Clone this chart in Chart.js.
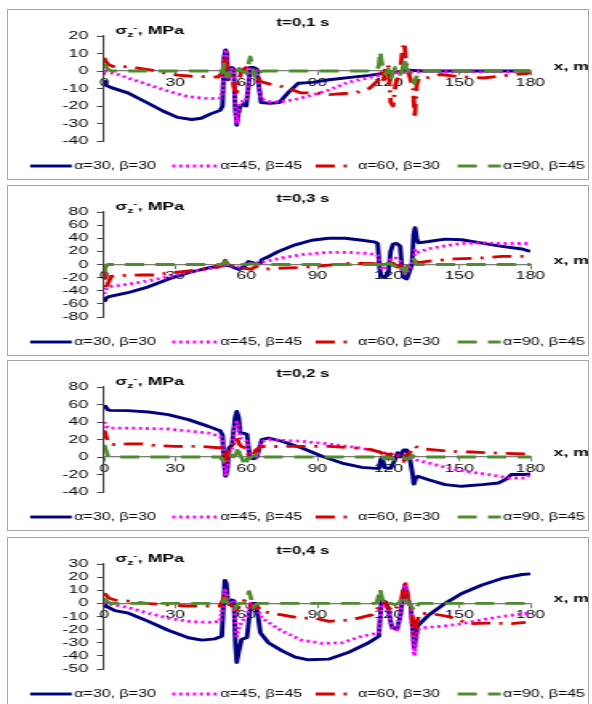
<!DOCTYPE html>
<html>
<head>
<meta charset="utf-8">
<script src="https://cdn.jsdelivr.net/npm/chart.js@4.4.1/dist/chart.umd.min.js"></script>
<style>
  html, body { margin: 0; padding: 0; background: #fff; width: 592px; height: 704px; overflow: hidden; }
  .panel { position: absolute; left: 7px; width: 580px; height: 169px; border: 1px solid #a8a8a8; background: #fff; overflow: hidden; }
  .panel canvas { transform: scaleX(1.60221); transform-origin: 0 0; }
</style>
</head>
<body>
<div class="panel" style="top:9px"><canvas id="c1" width="362" height="168"></canvas></div>
<div class="panel" style="top:185px"><canvas id="c2" width="362" height="168"></canvas></div>
<div class="panel" style="top:360px"><canvas id="c3" width="362" height="168"></canvas></div>
<div class="panel" style="top:537px"><canvas id="c4" width="362" height="168"></canvas></div>
<script>
// ---- data: stress sigma_z- (MPa) along x (m) for four moments of time ----
const xTicks = [0, 30, 60, 90, 120, 150, 180];
const seriesLabels = ['α=30, β=30', 'α=45, β=45', 'α=60, β=30', 'α=90, β=45'];
const panelTimes = ['t=0,1 s', 't=0,3 s', 't=0,2 s', 't=0,4 s'];

const yTicks01 = [-40, -30, -20, -10, 0, 10, 20];
const yTicks03 = [-80, -60, -40, -20, 0, 20, 40, 60, 80];
const yTicks02 = [-40, -20, 0, 20, 40, 60, 80];
const yTicks04 = [-50, -40, -30, -20, -10, 0, 10, 20, 30];

// t = 0,1 s
const s01_a30 = [[0,-6],[0.5,-8],[3,-9.5],[10,-12.5],[18,-18],[25,-23],[31,-26.5],[37,-27.7],[41,-27],[45,-24.5],[49,-22.5],[50,-20],[50.7,8],[51.3,12],[51.8,10],[52.3,-5],[53,0],[54,2],[54.7,1],[55.3,-20],[56,-31],[56.6,-25],[57.5,-20],[59,-19],[60,-20],[61,-8],[61.7,2],[63,2],[64.5,1],[65.3,-8],[66.3,-18],[70,-18.5],[74,-18],[78,-12],[82,-7],[88,-6.5],[95,-5],[105,-3.5],[112,-2.5],[120,-1],[125,-0.5],[128,0.5],[135,0],[150,0],[165,0],[180,0]];
const s01_a45 = [[0,0],[2,-1],[5,-1.5],[10,-4],[18,-7.5],[27,-11.5],[35,-14.5],[44,-15.8],[49,-15.5],[50,-12],[50.7,8],[51.3,11],[51.8,8],[52.3,-5],[53,0],[54,1],[54.7,0],[55.3,-18],[56,-30],[56.6,-24],[57.5,-18],[59,-17],[60,-17],[61,-6],[61.7,1],[63,1],[64.5,0],[65.3,-8],[66.3,-16],[70,-17.5],[75,-17.5],[80,-16.5],[86,-14.5],[95,-10.8],[103,-6.5],[111,-4],[117,-2.3],[125,-1],[135,-0.3],[150,-0.5],[165,-0.5],[180,-0.5]];
const s01_a60 = [[0,7.5],[0.5,6],[1.5,4],[3,3],[5,2],[10,2.5],[15,1.5],[20,0.5],[25,-1],[31,-2.3],[37,-3],[42,-3.2],[48,-3.5],[50,-1],[50.8,8],[51.5,5],[52.5,-2],[54,-3],[55,-10],[56,-12],[57,-5],[58,0],[60,2],[61,0],[62,-1],[64,-1],[66,-6],[70,-7.5],[74,-8.5],[78,-10],[83,-12.5],[89,-12.5],[95,-13.5],[100,-13],[106,-12.5],[112,-10],[116,-5],[117,-1],[118,-5],[119,3],[120,3.5],[121,-18],[122,-20],[123,-8],[124,-4],[125,0],[126,12],[126.8,16],[127.5,5],[129,-3],[130.5,-10],[131.2,-27],[132,-8],[133,-4],[136,-4],[142,-2],[150,-3.2],[160,-4],[170,-2.5],[178,-1.5],[180,-1]];
const s01_a90 = [[0,4],[0.5,3],[1.5,1],[3,0],[10,0],[20,0],[30,0],[40,0],[49,0],[50,-1],[50.8,4],[51.5,-3],[52.5,-3],[53.5,1],[55,-1],[56,0],[57,1.5],[58,0],[60,-1],[61,4],[61.7,8],[62.5,3],[63.5,-3],[64.5,1],[65.5,-1],[67,0],[80,0],[100,0],[115,0],[116,3],[116.6,11],[117.2,5],[118,0],[119,-2],[120,1],[121,-5],[122,-1],[123,2],[124,-1],[125,-2],[126,1],[126.8,7],[127.5,2],[129,-1],[130,-2],[131,-7],[132,-3],[133,0],[150,0],[165,0],[180,0]];

// t = 0,3 s
const s03_a30 = [[0,-55],[0.5,-52],[2,-49],[10,-43],[18.7,-34],[27,-22.6],[35.6,-12.6],[44,-5],[51,-1],[53,-2],[55,-5],[57,-7.5],[59,-3],[61,4.5],[62.5,3],[64,1.5],[66,2.5],[66.6,7.5],[70,13],[73.7,20],[80.7,30],[87.7,37],[94.8,40],[101.8,40],[109,37],[114.5,34],[115.5,32],[116.3,-5],[117,-18],[118.5,-20],[120,-12],[121,20],[122,31],[123.5,32],[125,28],[125.8,-5],[126.5,-20],[127.8,-22],[129,-10],[130,0],[130.7,45],[131.3,56],[132,40],[132.8,33],[137,35],[144,38.7],[151,37.7],[159.6,32.7],[168,27.7],[176.5,23.6],[180,20]];
const s03_a45 = [[0,-45],[0.7,-38],[2,-34],[10,-30],[18.7,-25],[27,-18.6],[35.6,-11.6],[44,-6.5],[50,-3],[51,2],[52.5,-2.5],[55,-3],[57,-4],[59,0],[61,2],[63,1],[66.6,3.5],[75,10],[83.5,15],[94.8,18.6],[103,18.6],[111.7,16.6],[115,15],[116,12],[117,-5],[118.5,-8],[120,0],[121,8],[123,10],[125,5],[126,-12],[127.5,-15],[129,-5],[130.5,5],[131.3,22],[132,18],[134,20],[137,24],[144,28.5],[151,32],[160,33],[168,32],[180,32]];
const s03_a60 = [[0,-5],[0.3,-28],[0.8,-38],[1.5,-30],[3,-18],[6,-17],[10,-16.5],[16,-16],[21.5,-16],[27,-13],[35,-10],[44,-6.5],[49,-3],[50.5,2],[51.2,6.5],[52,2],[54,-2],[56,-4],[58,-6],[60,-6],[62,-7.5],[64,-3],[66,-5],[68,-7],[72,-6],[78,-5],[84,-4.5],[90,-2.5],[95,-1],[103,1.5],[113,1.5],[116,1],[117,-3],[118.5,3],[120,-2],[122,2],[124,-4],[126,3],[128,-3],[130,0],[131.3,5],[133,3],[137,5],[148,8.5],[159.6,10],[168,12.5],[178,12.5]];
const s03_a90 = [[0,-12],[0.5,-5],[1.5,0],[10,0],[30,0],[49,0],[50.5,2],[51.5,5],[52.5,0],[55,-1],[58,0],[62,1],[66,0],[100,0],[116,0],[117,-8],[118,0],[120,2],[122,-1],[124,-5],[125,0],[127,-12],[128,-2],[130,3],[130.8,8],[132,0],[150,0],[180,0]];

// t = 0,2 s
const s02_a30 = [[0,57],[0.5,58],[1.5,54],[2.5,53.3],[10,53],[18.7,51.4],[27,48.4],[35.6,42.7],[44,35],[49,30],[50,25],[50.6,-5],[51.3,-22],[52,-15],[52.7,10],[54,14],[55.3,45],[56,52],[56.8,45],[57.5,28],[59,27],[60.3,26],[61,10],[61.7,-1],[63,-2],[64.5,0],[65.5,10],[66.6,19.8],[69.4,21.7],[75,18],[83.5,10.3],[92,0.8],[100.4,-6.9],[108.9,-11.8],[116,-13.3],[116.8,-3],[117.5,0],[118.3,-12],[121,-13],[122.5,-5],[124,5],[125,0],[126.5,8],[127.8,8],[129,0],[130.3,-20],[130.8,-31],[131.5,-25],[132.5,-22],[137,-26],[144,-31.6],[151,-33.5],[159.6,-31.6],[166.6,-29.7],[170,-25],[172,-20],[178,-20],[180,-19.4]];
const s02_a45 = [[0,40],[0.7,35],[2,33],[10.3,33],[27,32],[44,27.4],[49,23.6],[50,20],[50.6,-5],[51.3,-20],[52,-12],[52.7,5],[54,10],[55.3,35],[56,40],[56.8,35],[57.5,22],[59,20],[60.3,18],[61,8],[61.7,-1],[63,-1],[64.5,0],[65.5,10],[66.6,18],[70,19.8],[83.5,18],[94.8,14.9],[103,12.2],[112,8.4],[118.7,4.6],[124,2],[128.6,-1],[137,-6.9],[145.5,-12.6],[154,-17],[162.4,-20],[171,-24],[178,-24],[180,-19.4]];
const s02_a60 = [[0,25],[0.3,29],[1,22],[2.5,15],[4.6,14],[10,14.9],[16,14.9],[22,13],[30,12.2],[40,12.2],[49.7,10.3],[50.7,0],[51.3,-5],[52,5],[54,10],[55,18],[56,21.7],[57,15],[58,12],[60,10],[61,2],[62,0],[63,2],[64,8],[66.6,12],[72,12],[80.7,12.2],[94.8,12.2],[106,10.3],[113,8.4],[117,5],[118,0],[119,8],[120,-2],[121,3],[123,6],[125,-2],[126.5,-5],[127.5,2],[129,5],[130.5,8],[131.4,12.2],[133,10],[135.6,9],[145.5,6.5],[155,5.7],[165,4.6],[178,3.4]];
const s02_a90 = [[0,14],[0.5,10],[1.5,2],[3,0],[20,0],[49,0],[50.5,-5],[51.5,2],[53,3],[54.5,0],[56,5],[56.5,12],[57.2,3],[58.5,-3],[59.5,-10],[60.5,-3],[62,0],[64,2],[65.5,5],[66.5,0],[80,0],[100,0],[115,0],[117,3],[118,-2],[120,0],[122,-3],[124,2],[126,0],[128,-3],[130,2],[131,0],[150,0],[180,0]];

// t = 0,4 s
const s04_a30 = [[0,-1],[0.5,-2],[4.6,-5.5],[10.3,-7.5],[18.7,-13.7],[27,-20.5],[35.6,-26.2],[41.3,-28],[46.9,-27],[49.7,-25],[50.4,0],[51,17.5],[51.6,15],[52.3,0],[53,-1],[54,2.5],[54.8,2],[55.4,-30],[56,-45],[56.7,-38],[58,-27.5],[60.3,-26],[61.3,-10],[62,0],[64,0],[65,-10],[66,-22.5],[69.4,-30],[75,-36],[80.7,-41],[86.3,-43],[94.8,-42.5],[103,-37.5],[111.7,-30],[116,-25],[116.6,-10],[117.2,2],[119,1],[120,-5],[121.5,-18],[123.7,-20],[125,-10],[126.2,5],[127,14],[127.8,10],[128.6,0],[129.5,-2],[130.3,-20],[131,-34],[131.7,-25],[132.5,-17],[137,-9],[144,0],[151,7.5],[159.6,14],[168,19],[176.5,22],[180,22.5]];
const s04_a45 = [[0,1],[0.5,0],[4.6,-1.2],[10.3,-3.2],[18.7,-7.5],[27,-11.2],[35.6,-13.7],[44,-14.5],[49,-13.7],[50.3,0],[51,10],[51.6,8],[52.3,0],[54,2],[54.8,0],[55.4,-15],[56,-25],[56.7,-20],[58,-14],[60.3,-10],[61.3,-3],[62,0],[64,0],[65,-5],[66.6,-11.2],[75,-21],[83.5,-28],[92,-30.5],[100.4,-30],[109,-25],[116,-22.5],[116.6,-10],[117.2,0],[119,0],[120,-5],[121.5,-19],[123.7,-20],[125,-10],[126.2,5],[127,15],[127.8,10],[128.6,0],[129.5,-2],[130.3,-25],[131,-40],[131.7,-30],[132.5,-20],[134,-18.7],[142.7,-17.5],[151,-15.5],[159.6,-12.5],[168,-10],[179,-7.5]];
const s04_a60 = [[0,6],[0.5,7],[2,4],[4.6,2.5],[10.3,1.7],[18,0],[27,-1.2],[35,-2],[44,-2],[49,-2],[50.3,3],[51,7.5],[51.8,3],[53,-1],[55,-3],[56,-5],[57,-2],[59,2],[60,3],[61,0],[62,-2],[63,-4],[64.5,-2],[66.6,-6.2],[75,-8.8],[83,-11.2],[89,-11.2],[95,-13.7],[104.6,-12.5],[113,-8.8],[116,-3],[117,0],[118,2],[120,-3],[122,-6],[124,-2],[125.5,3],[126.5,12],[127.2,15],[128,5],[129.5,-3],[130.5,-15],[131.2,-23.7],[132,-15],[133,-8],[137,-7.5],[145.5,-10],[154,-15.5],[162.4,-15],[172,-15.5],[178,-14.5]];
const s04_a90 = [[0,4],[0.5,3],[1.5,1],[3,0],[20,0],[49,0],[50.3,1],[51,4],[51.8,1],[53,-1],[54.3,-3],[55,-5],[55.8,-2],[57,0],[59,0],[60.5,5],[61.2,9],[62,4],[63,-3],[64,-1],[65,0],[80,0],[100,0],[115,0],[115.8,5],[116.5,11],[117.2,5],[118,0],[119,1],[120,2],[121,0],[123,-1],[125,1],[126.8,6],[127.8,2],[129,-1],[130,-3],[131.3,-6],[132,-3],[133,0],[150,0],[180,0]];

// ---- drawing ----
const FONT = '"Liberation Sans", Arial, Helvetica, sans-serif';
const seriesStyles = [
  { color: '#000080', dash: [], width: 2.9, order: 3 },
  { color: '#ff00ff', dash: [2, 2.3], width: 2.8, order: 2 },
  { color: '#d80000', dash: [12, 5.5, 2, 5.5], width: 2.8, order: 1 },
  { color: '#4f8c30', dash: [12, 7], width: 2.8, order: 0 }
];
// legend sample placement in canvas units: [start, length]
const legendSlots = [[13.8, 26], [102.5, 28.5], [192, 25], [280.6, 27]];

const panelDecor = {
  id: 'panelDecor',
  afterDraw(chart, args, opts) {
    const ctx = chart.ctx;
    ctx.save();
    ctx.fillStyle = '#000';
    // time label
    ctx.font = 'bold 10.5px ' + FONT;
    ctx.textAlign = 'center';
    ctx.textBaseline = 'middle';
    ctx.fillText(opts.time, 184, 13);
    // y axis title: sigma with subscript z and superscript minus
    ctx.textAlign = 'left';
    ctx.textBaseline = 'alphabetic';
    let x = 67;
    const base = 24;
    ctx.font = 'bold 11px ' + FONT;
    ctx.fillText('σ', x, base);
    x += ctx.measureText('σ').width;
    ctx.font = 'bold 7.5px ' + FONT;
    ctx.fillText('z', x, base + 2.5);
    const wz = ctx.measureText('z').width;
    ctx.fillText('-', x + wz, base - 4);
    x += wz + ctx.measureText('-').width + 0.3;
    ctx.font = 'bold 11px ' + FONT;
    ctx.fillText(', MPa', x, base);
    // x axis title
    const y0 = chart.scales.y.getPixelForValue(0);
    ctx.textBaseline = 'middle';
    ctx.fillText('x, m', 340.6, y0 - 4);
    // legend
    const ly = 156;
    ctx.font = '10px ' + FONT;
    chart.data.datasets.forEach((ds, i) => {
      const [sx, len] = legendSlots[i];
      ctx.save();
      ctx.strokeStyle = ds.borderColor;
      ctx.lineWidth = ds.borderWidth;
      ctx.setLineDash(ds.borderDash || []);
      ctx.beginPath();
      ctx.moveTo(sx, ly);
      ctx.lineTo(sx + len, ly);
      ctx.stroke();
      ctx.restore();
      ctx.fillText(ds.label, sx + len + 1.5, ly + 0.5);
    });
    ctx.restore();
  }
};

function tickSetter(values) {
  return (scale) => { scale.ticks = values.map(v => ({ value: v })); };
}

function makePanel(id, time, yTicks, series) {
  const datasets = series.map((pts, i) => ({
    label: seriesLabels[i],
    data: pts.map(([x, y]) => ({ x, y })),
    borderColor: seriesStyles[i].color,
    borderDash: seriesStyles[i].dash,
    borderWidth: seriesStyles[i].width,
    order: seriesStyles[i].order,
    pointRadius: 0,
    fill: false,
    tension: 0,
    borderJoinStyle: 'round',
    borderCapStyle: 'butt'
  }));
  new Chart(document.getElementById(id), {
    type: 'line',
    data: { datasets },
    plugins: [panelDecor],
    options: {
      responsive: false,
      animation: false,
      devicePixelRatio: 1,
      layout: { padding: { left: 0, right: 36, top: 26, bottom: 37 } },
      plugins: {
        legend: { display: false },
        tooltip: { enabled: false },
        panelDecor: { time }
      },
      scales: {
        x: {
          type: 'linear',
          min: xTicks[0],
          max: xTicks[xTicks.length - 1],
          position: { y: 0 },
          afterBuildTicks: tickSetter(xTicks),
          grid: { drawOnChartArea: false, drawTicks: true, tickLength: 4, color: '#7a7a7a', lineWidth: 1 },
          border: { display: true, color: '#7a7a7a', width: 1.3 },
          ticks: { color: '#000', font: { family: FONT, size: 11 }, padding: 1, maxRotation: 0, autoSkip: false }
        },
        y: {
          type: 'linear',
          position: 'left',
          min: yTicks[0],
          max: yTicks[yTicks.length - 1],
          afterFit: (s) => { s.width = 60; },
          afterBuildTicks: tickSetter(yTicks),
          grid: { drawOnChartArea: false, drawTicks: true, tickLength: 4.5, color: '#444', lineWidth: 1 },
          border: { display: true, color: '#444', width: 1.1 },
          ticks: { color: '#000', font: { family: FONT, size: 11 }, padding: 5.5, autoSkip: false }
        }
      }
    }
  });
}

makePanel('c1', panelTimes[0], yTicks01, [s01_a30, s01_a45, s01_a60, s01_a90]);
makePanel('c2', panelTimes[1], yTicks03, [s03_a30, s03_a45, s03_a60, s03_a90]);
makePanel('c3', panelTimes[2], yTicks02, [s02_a30, s02_a45, s02_a60, s02_a90]);
makePanel('c4', panelTimes[3], yTicks04, [s04_a30, s04_a45, s04_a60, s04_a90]);
</script>
</body>
</html>
